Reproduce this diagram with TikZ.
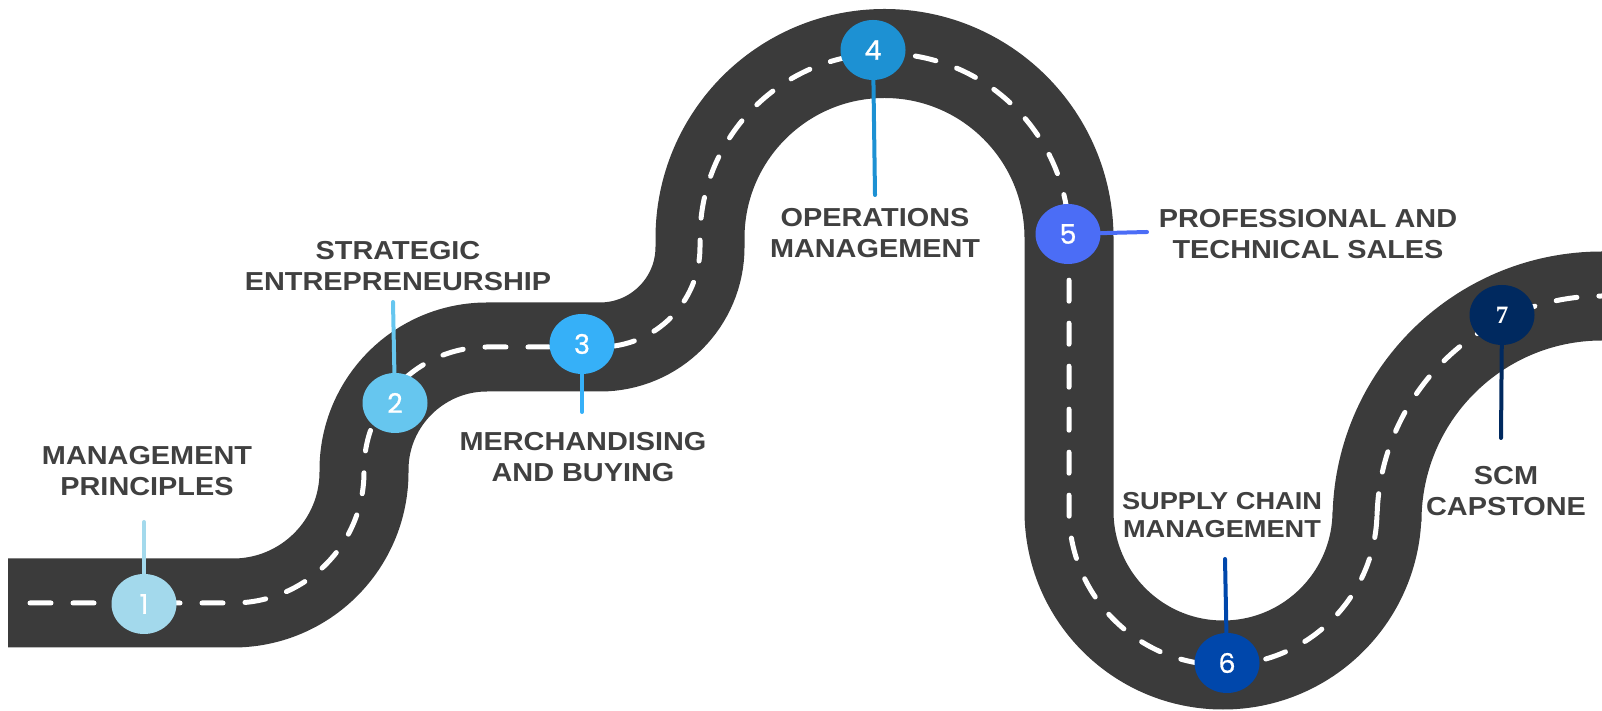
\documentclass[tikz,border=0pt]{standalone}
\usepackage{fontspec}
\setmainfont{Liberation Sans}
\newfontfamily\labelfont[FakeStretch=1.11]{Liberation Sans}
\newfontfamily\numfont[FakeBold=0.8]{Poppins}
\newfontfamily\sevenfont{Liberation Serif}
\usepackage{xcolor}
\usepackage{tikz}
\usetikzlibrary{shapes.geometric}

\definecolor{road}{HTML}{3B3B3B}
\definecolor{ink}{HTML}{404040}
\definecolor{stepone}{HTML}{A3D9EC}
\definecolor{steptwo}{HTML}{66C6EF}
\definecolor{stepthree}{HTML}{36B0F8}
\definecolor{stepfour}{HTML}{1D91D3}
\definecolor{stepfive}{HTML}{4B6DF6}
\definecolor{stepsix}{HTML}{0047AB}
\definecolor{stepseven}{HTML}{00295F}

\begin{document}
\begin{tikzpicture}[x=1pt, y=1pt,
				roadbed/.style={draw=road, line width=89pt,
					postaction={draw=white, line width=5pt, line cap=round,
						dash pattern=on 21pt off 22pt, dash phase=21pt}},
				stop/.style={ellipse, minimum width=65pt, minimum height=60pt,
					inner sep=0pt, text=white,
					font=\numfont\fontsize{27}{27}\selectfont},
				stem/.style={line width=4pt, line cap=round},
				stoptext/.style={align=center, inner sep=0pt, text=ink,
					font=\labelfont\bfseries\fontsize{26}{31}\selectfont}]
				\useasboundingbox (0,0) rectangle (1602,711);
				% the road
				\path[roadbed] (8,108) -- (233,108) arc (-90:0:131pt) -- (364,241)
					arc (180:90:123pt) -- (600,364) arc (-90:0:100pt) -- (700,473)
					arc (180:0:184.5pt) -- (1069,200) arc (180:360:154pt) -- (1377,190)
					arc (180:90:225pt) -- (1612,415);
				% stops
				\node at (144,107) (c1) [stop, fill=stepone] {1};
				\node at (395,308) (c2) [stop, fill=steptwo] {2};
				\node at (582,367) (c3) [stop, fill=stepthree] {3};
				\node at (873,661) (c4) [stop, fill=stepfour] {4};
				\node at (1068,477) (c5) [stop, fill=stepfive] {5};
				\node at (1227,48) (c6) [stop, fill=stepsix] {6};
				\node at (1502,396) (c7) [stop, fill=stepseven, font=\sevenfont\bfseries\fontsize{25}{25}\selectfont] {7};
				\coordinate (s1) at (144,189);
				\coordinate (s2) at (393,409);
				\coordinate (s3) at (582,299);
				\coordinate (s4) at (875,516);
				\coordinate (s5) at (1147,479);
				\coordinate (s6) at (1225,152);
				\coordinate (s7) at (1501,273);
				\draw[stem, stepone] (c1) -- (s1);
				\draw[stem, steptwo] (c2) -- (s2);
				\draw[stem, stepthree] (c3) -- (s3);
				\draw[stem, stepfour] (c4) -- (s4);
				\draw[stem, stepfive] (c5) -- (s5);
				\draw[stem, stepsix] (c6) -- (s6);
				\draw[stem, stepseven] (c7) -- (s7);
				% labels
				\node at (147,240) (l1) [stoptext] {MANAGEMENT\\PRINCIPLES};
				\node at (398,445) (l2) [stoptext] {STRATEGIC\\ENTREPRENEURSHIP};
				\node at (583,254) (l3) [stoptext] {MERCHANDISING\\AND BUYING};
				\node at (875,478) (l4) [stoptext] {OPERATIONS\\MANAGEMENT};
				\node at (1308,477) (l5) [stoptext] {PROFESSIONAL AND\\TECHNICAL SALES};
				\node at (1222,196) (l6) [stoptext, font=\labelfont\bfseries\fontsize{24.5}{28}\selectfont] {SUPPLY CHAIN\\MANAGEMENT};
				\node at (1506,220) (l7) [stoptext] {SCM\\CAPSTONE};
			\end{tikzpicture}
\end{document}
